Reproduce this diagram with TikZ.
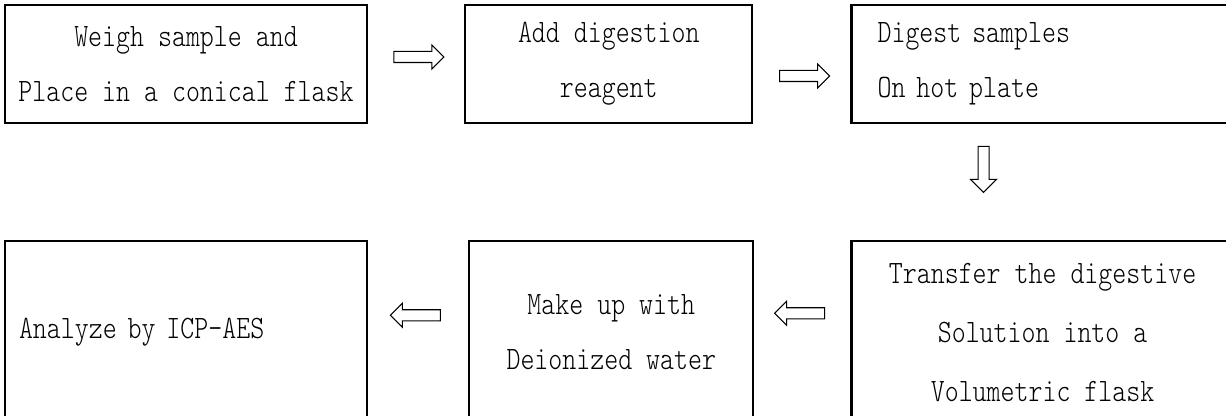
\documentclass[tikz,border=0pt]{standalone}
\usepackage{fontspec}
\newfontfamily\stepfont{lmmonolt10-regular.otf}[FakeStretch=0.814]
\usepackage{tikz}
\usetikzlibrary{shapes.arrows, positioning, calc}
\tikzset{
    stepbox/.style={
        rectangle,
        draw=black,
        line width=1.3pt,
        minimum height=2.36cm,
        inner sep=0.1cm,
        align=center,
        fill=white,
        font={\stepfont\fontsize{18.6pt}{31.3pt}\selectfont}
    },
    tallbox/.style={
        minimum height=3.64cm
    },
    blockarrow/.style={
        single arrow,
        draw=black,
        line width=0.6pt,
        fill=white,
        minimum height=1cm,
        single arrow head extend=0.13cm,
        inner sep=0.1cm
    }
}
\begin{document}
\begin{tikzpicture}
\useasboundingbox (0,0) rectangle (24.52,-8.32);
\clip (0,0) rectangle (24.52,-8.32);

% Top row
\node[stepbox, minimum width=7.24cm] (weigh) at (3.72,-1.28) {Weigh sample and\\Place in a conical flask};
\node[stepbox, minimum width=5.74cm, right=1.92cm of weigh] (reagent) {Add digestion\\reagent};
\node[stepbox, align=left, text width=6.6cm, inner xsep=0.52cm, right=1.94cm of reagent] (digest) {Digest samples\\On hot plate};

% Bottom row
\node[stepbox, tallbox, align=left, text width=6.68cm, inner xsep=0.28cm, below=2.32cm of weigh] (analyze) {Analyze by ICP-AES};
\node[stepbox, tallbox, minimum width=5.68cm, right=2cm of analyze] (makeup) {Make up with\\Deionized water};
\node[stepbox, tallbox, minimum width=7.64cm, right=1.92cm of makeup, font={\stepfont\fontsize{18.6pt}{33.6pt}\selectfont}] (transfer) {Transfer the digestive\\Solution into a\\Volumetric flask};

% Arrows between steps
\node[blockarrow] (a1) at ($(weigh.east)!0.5!(reagent.west)+(0,0.14)$) {};
\node[blockarrow] (a2) at ($(reagent.east)!0.5!(digest.west)+(0,-0.24)$) {};
\node[blockarrow, rotate=-90, minimum height=0.92cm, single arrow head extend=0.15cm] (a3) at ($(digest.south)+(-1.18,-0.85)$) {};
\node[blockarrow, rotate=180] (a4) at ($(analyze.east)!0.5!(makeup.west)+(0,0.34)$) {};
\node[blockarrow, rotate=180] (a5) at ($(makeup.east)!0.5!(transfer.west)+(0,0.38)$) {};

\end{tikzpicture}
\end{document}
